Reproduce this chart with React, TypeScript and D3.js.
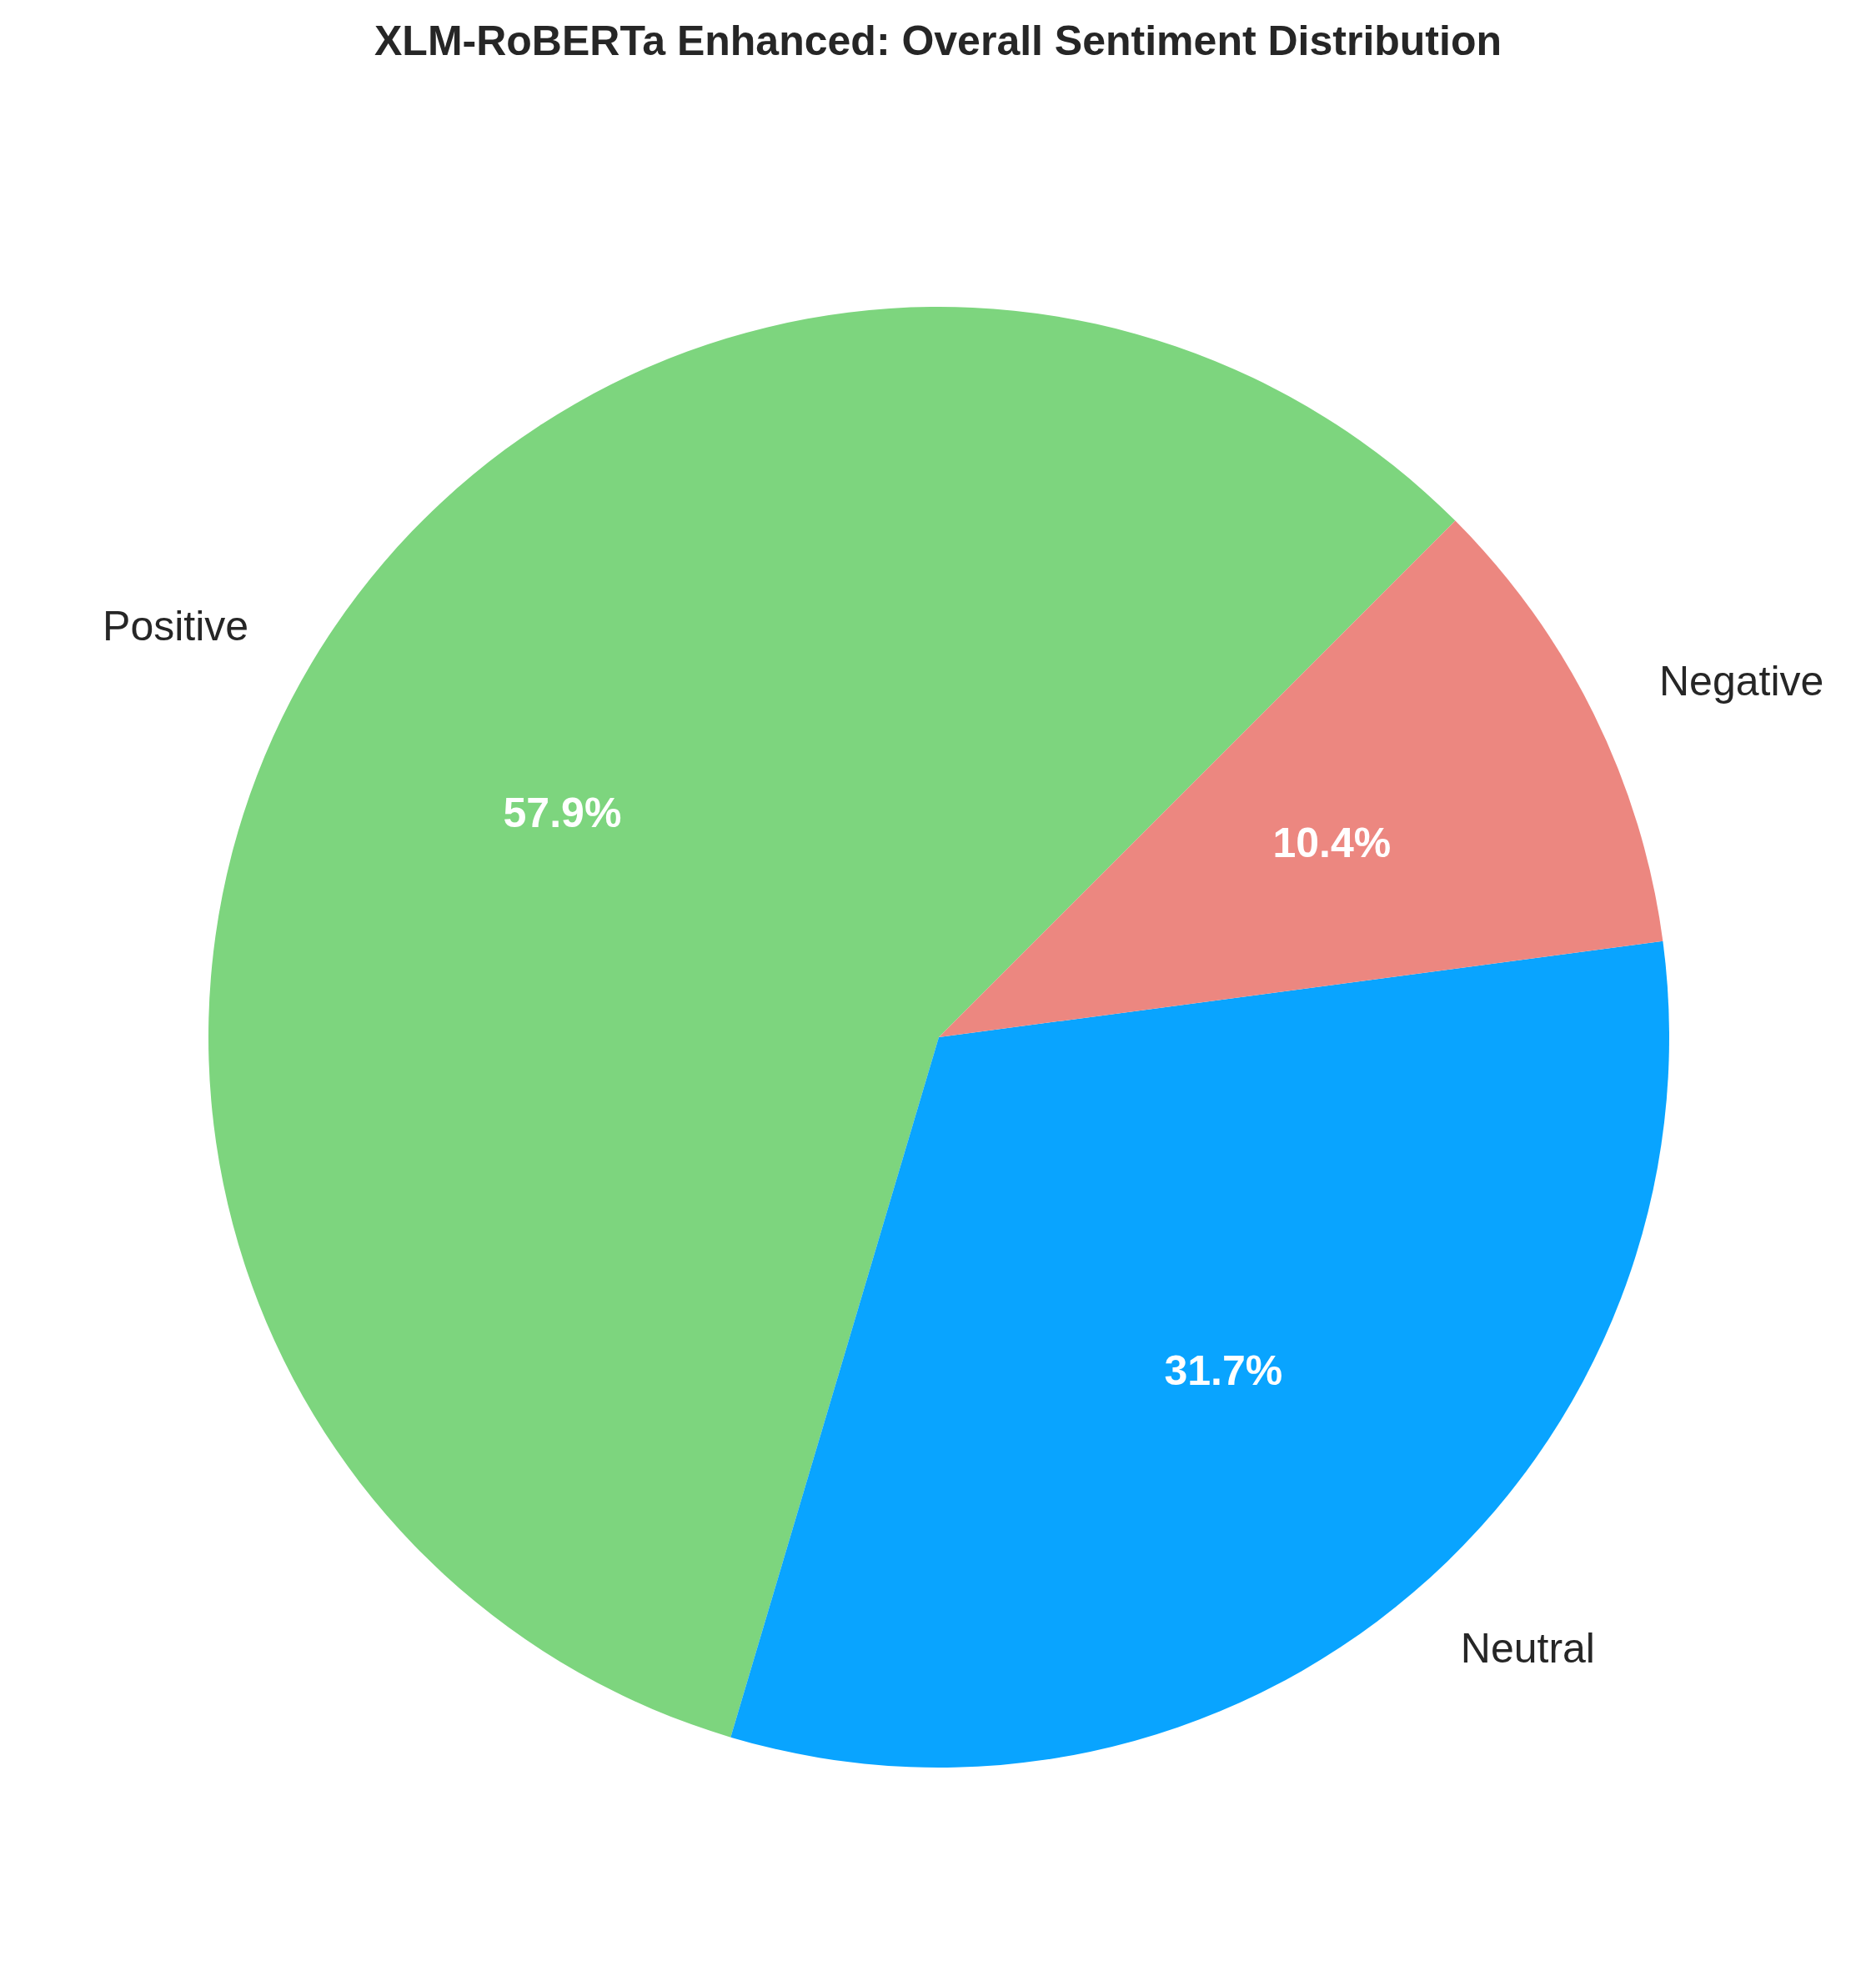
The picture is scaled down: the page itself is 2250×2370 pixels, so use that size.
import { useMemo } from 'react'
import * as d3 from 'd3'

const labels = ['Positive', 'Neutral', 'Negative']
const shares = [57.9, 31.7, 10.4]
const colors = ['#7DD57E', '#09A4FF', '#EC8780']

const W = 2250
const H = 2370
const TITLE = 'XLM-RoBERTa Enhanced: Overall Sentiment Distribution'

export default function App() {
  const cx = 1126
  const cy = 1244
  const r = 876

  // matplotlib style: start at 45deg, go counterclockwise
  const arcs = useMemo(() => {
    const start = (Math.PI / 180) * (90 - 45)
    return d3.pie<number>()
      .sort(null)
      .value(d => d)
      .startAngle(start)
      .endAngle(start - 2 * Math.PI)(shares)
  }, [])

  const arcGen = d3.arc<d3.PieArcDatum<number>>().innerRadius(0).outerRadius(r)

  const font = '"Liberation Sans", Arial, sans-serif'

  return (
    <svg width={W} height={H} style={{ position: 'absolute', left: 0, top: 0, background: '#fff' }}>
      <text x={W / 2} y={49} textAnchor="middle" dominantBaseline="central"
        fontFamily={font} fontWeight="bold" fontSize={50} fill="#262626">{TITLE}</text>
      <g transform={`translate(${cx},${cy})`}>
        {arcs.map((a, i) => (
          <path key={labels[i]} d={arcGen(a) ?? ''} fill={colors[i]} />
        ))}
        {arcs.map((a, i) => {
          const mid = (a.startAngle + a.endAngle) / 2
          const lx = Math.sin(mid) * r * 1.1
          const ly = -Math.cos(mid) * r * 1.1
          const px = Math.sin(mid) * r * 0.6
          const py = -Math.cos(mid) * r * 0.6
          return (
            <g key={'t' + labels[i]}>
              <text x={lx} y={ly} textAnchor={lx > 0 ? 'start' : 'end'} dominantBaseline="central"
                fontFamily={font} fontSize={50} fill="#262626">{labels[i]}</text>
              <text x={px} y={py} textAnchor="middle" dominantBaseline="central"
                fontFamily={font} fontWeight="bold" fontSize={50} fill="#ffffff">{shares[i].toFixed(1)}%</text>
            </g>
          )
        })}
      </g>
    </svg>
  )
}
